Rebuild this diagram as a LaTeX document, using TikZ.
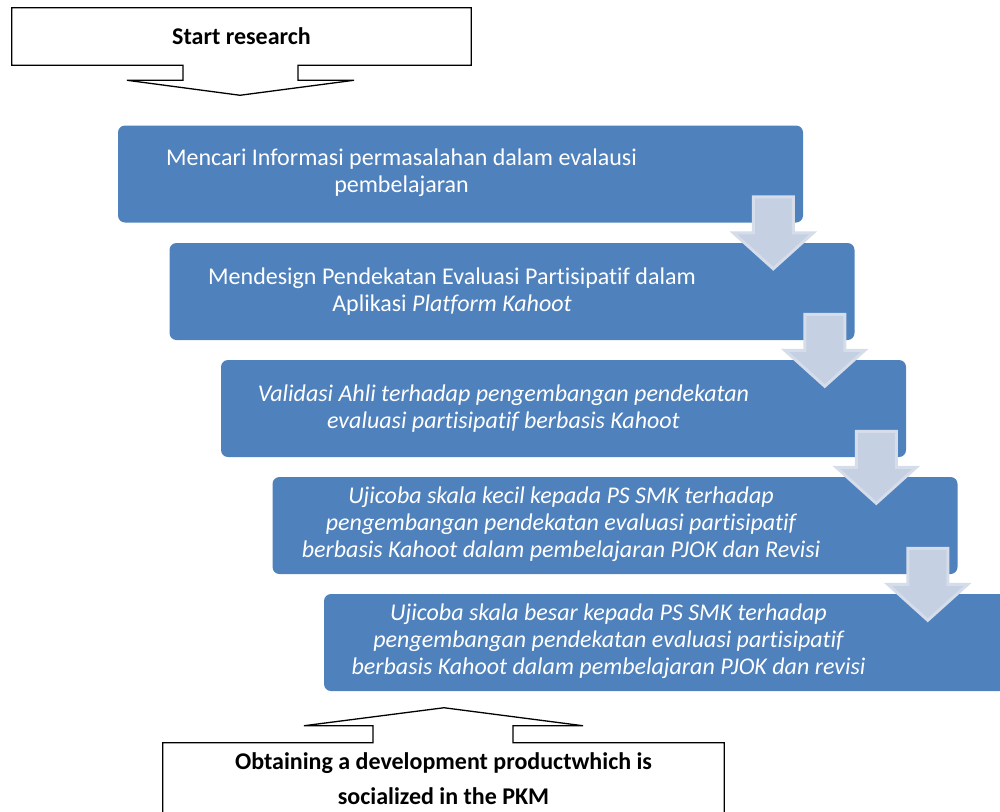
\documentclass[tikz,border=0pt]{standalone}
\usepackage{fontspec}
\setmainfont{Carlito}[Ligatures={NoCommon}]
\usetikzlibrary{calc}

\definecolor{stepblue}{HTML}{4F81BD}
\definecolor{arrowfill}{HTML}{C5D0E3}
\definecolor{arrowline}{HTML}{D5DCEA}

\newdimen\pxu
\pxu=0.75pt

\tikzset{
  callout/.style={draw=black, line width=1.3\pxu},
  stepbox/.style={rectangle, fill=stepblue, rounded corners=7\pxu,
    minimum width=685\pxu, minimum height=97\pxu, inner sep=0pt},
  steptext/.style={text=white, align=center, inner sep=0pt,
    font=\fontsize{18}{20.25}\selectfont},
  flowarrow/.style={fill=arrowfill, draw=arrowline, line width=3\pxu,
    line join=miter}
}

\begin{document}
\begin{tikzpicture}[x=0.75pt,y=-0.75pt]
  \useasboundingbox (0,0) rectangle (1000,811);

  % callouts at top and bottom
  \begin{scope}[every node/.style={rectangle, inner sep=0pt, align=center,
      font=\bfseries\fontsize{18}{26.25}\selectfont}]
    \node[minimum width=459\pxu, minimum height=57\pxu] (start) at (241.5,36.5) {Start research};
    \node[minimum width=561\pxu, minimum height=72\pxu] (finish) at (443.5,779)
      {Obtaining a development productwhich is\\socialized in the PKM};
  \end{scope}

  \draw[callout] (start.south west) -- (start.north west) -- (start.north east)
    -- (start.south east) -- ($(start.south)+(56.5,0)$) -- ++(0,15) -- ++(56,0)
    -- ++(-114,15) -- ++(-113,-15) -- ++(56,0) -- ++(0,-15) -- cycle;
  \draw[callout] ($(finish.south west)+(0,30)$) -- (finish.north west)
    -- ($(finish.north)+(-70.5,0)$) -- ++(0,-17) -- ++(-69,0) -- ++(140,-18)
    -- ++(139,18) -- ++(-70,0) -- ++(0,17) -- (finish.north east)
    -- ($(finish.south east)+(0,30)$);

  % the five steps
  \begin{scope}[every node/.style={stepbox}]
    \node (b1) at (460.5,174)   {};
    \node (b2) at (512,291.5)   {};
    \node (b3) at (563.5,408.5) {};
    \node (b4) at (615,525.5)   {};
    \node (b5) at (666.5,642.5) {};
  \end{scope}

  \begin{scope}[every node/.style={steptext}]
    \node (t1) at ($(b1.center)+(-59,-1.5)$)
      {Mencari Informasi permasalahan dalam evalausi\\pembelajaran};
    \node (t2) at ($(b2.center)+(-60,0)$)
      {Mendesign Pendekatan Evaluasi Partisipatif dalam\\Aplikasi \textit{Platform Kahoot}};
    \node[font=\itshape\fontsize{18}{20.25}\selectfont] (t3) at ($(b3.center)+(-60,0)$)
      {Validasi Ahli terhadap pengembangan pendekatan\\evaluasi partisipatif berbasis Kahoot};
    \node[font=\itshape\fontsize{18}{20.25}\selectfont] (t4) at ($(b4.center)+(-54,-1)$)
      {Ujicoba skala kecil kepada PS SMK terhadap\\pengembangan pendekatan evaluasi partisipatif\\berbasis Kahoot dalam pembelajaran PJOK dan Revisi};
    \node[font=\itshape\fontsize{18}{20.25}\selectfont] (t5) at ($(b5.center)+(-58,-1)$)
      {Ujicoba skala besar kepada PS SMK terhadap\\pengembangan pendekatan evaluasi partisipatif\\berbasis Kahoot dalam pembelajaran PJOK dan revisi};
  \end{scope}

  % block arrows from one step to the next
  \foreach \i in {1,...,4}
    \draw[flowarrow] ($(b\i.south east)+(-50,-26)$) -- ++(40,0) -- ++(0,36)
      -- ++(20,0) -- ++(-40,36) -- ++(-40,-36) -- ++(20,0) -- cycle;

\end{tikzpicture}
\end{document}
